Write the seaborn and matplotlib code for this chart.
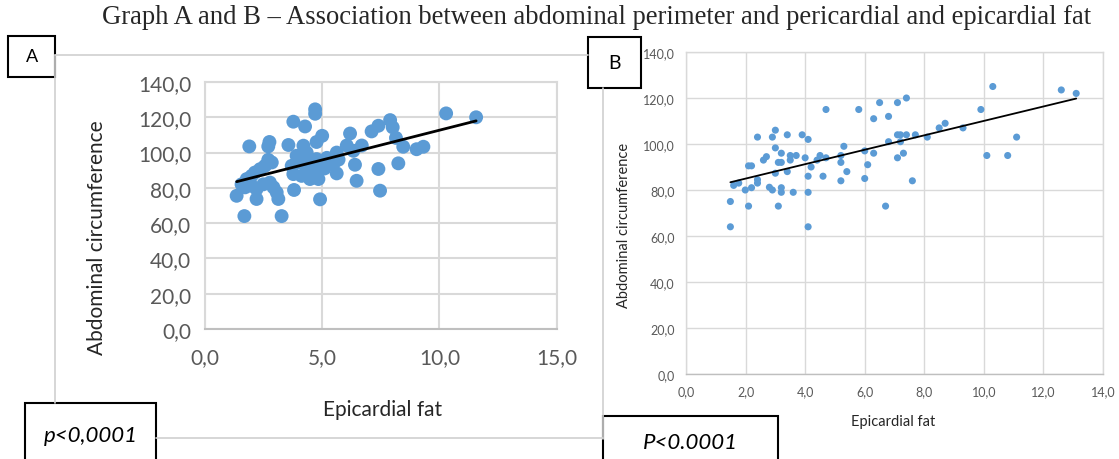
import matplotlib
matplotlib.use("Agg")
import matplotlib.pyplot as plt
from matplotlib.lines import Line2D
from matplotlib.patches import Rectangle
import seaborn as sns
import pandas as pd

# Graph A - epicardial fat vs abdominal circumference
fat_a = [1.35, 1.56, 1.71, 1.68, 1.78, 1.89, 1.99, 1.99, 2.13, 2.2, 2.2, 2.35, 2.49, 2.56,
         2.7, 2.75, 2.7, 2.77, 2.85, 2.92, 3.06, 3.13, 3.27, 3.56, 3.7, 3.77, 3.77, 3.8,
         3.91, 4.05, 4.12, 4.2, 4.27, 4.34, 4.34, 4.48, 4.48, 4.62, 4.7, 4.7, 4.76, 4.76,
         4.84, 4.91, 5.0, 5.1, 5.3, 5.48, 5.62, 5.62, 6.05, 6.19, 6.33, 6.4, 6.47, 6.69,
         7.11, 7.4, 7.4, 7.47, 7.9, 8.01, 8.15, 8.25, 8.46, 9.03, 9.32, 10.29, 11.57,
         5.2, 5.7, 5.0]
circ_a = [75.5, 82, 80.3, 64, 85, 103.5, 86.8, 81.2, 88.7, 79.3, 73.7, 90.6, 82, 92.5,
          95.9, 106, 103.5, 83, 94.4, 80.3, 77.4, 73.7, 64, 104.3, 92.5, 117.5, 87.8, 78.8,
          98.2, 94.4, 86.8, 103.9, 114.8, 100, 92.5, 85, 95.3, 89.7, 124.5, 122, 106, 96.3,
          85, 73.5, 109.5, 91, 95, 93.5, 88.2, 100, 104, 110.8, 101, 93.1, 84, 104,
          112, 115.2, 90.7, 78.4, 118.4, 114.3, 108.3, 93.9, 103.3, 101.9, 103.3, 122.2, 120,
          97, 96, 92]

# Graph B
fat_b = [1.49, 1.49, 1.6, 1.77, 1.99, 2.1, 2.2, 2.1, 2.2, 2.4, 2.4, 2.4, 2.6, 2.7, 2.8,
         2.9, 2.9, 3.0, 3.0, 3.0, 3.1, 3.1, 3.2, 3.2, 3.2, 3.2, 3.4, 3.4, 3.5, 3.5, 3.6,
         3.7, 3.9, 4.0, 4.1, 4.1, 4.1, 4.1, 4.2, 4.5, 4.4, 4.6, 4.7, 4.7, 5.2, 5.2, 5.2,
         5.3, 5.4, 5.8, 6.0, 6.0, 6.1, 6.3, 6.3, 6.5, 6.7, 6.8, 6.8, 7.1, 7.1, 7.1, 7.2,
         7.2, 7.3, 7.4, 7.4, 7.6, 7.7, 8.1, 8.5, 8.7, 9.3, 9.9, 10.1, 10.3, 10.8, 11.1,
         12.6, 13.1]
circ_b = [75, 64, 82, 83, 80, 90.5, 90.5, 73, 81, 103, 83, 84.5, 93, 94.5, 81.2,
          80, 103, 106, 98.3, 87.3, 92, 73, 96, 92, 81, 79, 104, 88, 95, 93, 79,
          95, 104, 94, 102, 86, 79, 64, 90, 95, 93, 86, 115, 94, 95, 92, 84,
          99, 88, 115, 97, 85, 91, 111, 96, 118, 73, 112, 101, 118, 104, 94, 104,
          101, 96, 120, 104, 84, 104, 103, 107, 109, 107, 115, 95, 125, 95, 103,
          123.5, 122]

xticks_a = [0, 5, 10, 15]
xticks_b = [0, 2, 4, 6, 8, 10, 12, 14]
yticks = [0, 20, 40, 60, 80, 100, 120, 140]

title = "Graph A and B \u2013 Association between abdominal perimeter and pericardial and epicardial fat"

df_a = pd.DataFrame({"fat": fat_a, "circ": circ_a})
df_b = pd.DataFrame({"fat": fat_b, "circ": circ_b})

sns.set_theme(style="white")
plt.rcParams["font.family"] = ["Lato", "DejaVu Sans"]

W, H = 1119, 460
fig = plt.figure(figsize=(W / 100, H / 100), dpi=100)

def box(px, py, pw, ph):
    # pixel box (top-left origin) -> figure fraction
    return [px / W, 1 - (py + ph) / H, pw / W, ph / H]

def comma(v):
    return f"{v:.1f}".replace(".", ",")

blue = "#5B9BD5"
grid_c = "#D9D9D9"
tick_c = "#595959"

# chart area borders
for xs, ys in [([55, 588], [56, 56]), ([55, 55], [56, 404]), ([156, 603], [439, 439]),
               ([603, 603], [89, 440])]:
    fig.add_artist(Line2D([x / W for x in xs], [1 - y / H for y in ys],
                          color="#D0D0D0", lw=1.2))


def style_axes(ax, xticks, xlim, fs, xpad, ypad, lw):
    ax.set_xlim(*xlim)
    ax.set_ylim(0, 140)
    ax.set_xticks(xticks)
    ax.set_xticklabels([comma(v) for v in xticks])
    ax.set_yticks(yticks)
    ax.set_yticklabels([comma(v) for v in yticks])
    ax.grid(True, color=grid_c, lw=lw)
    ax.set_axisbelow(True)
    for s in ax.spines.values():
        s.set_color(grid_c)
        s.set_linewidth(lw)
    ax.spines["bottom"].set_color("#BFBFBF")
    ax.tick_params(length=0, labelsize=fs, colors=tick_c)
    ax.tick_params(axis="x", pad=xpad)
    ax.tick_params(axis="y", pad=ypad)


# panel A
ax_a = fig.add_axes(box(205, 83, 351.5, 247))
sns.regplot(data=df_a, x="fat", y="circ", ax=ax_a, ci=None,
            scatter_kws=dict(s=100, color=blue, edgecolor="none", alpha=1),
            line_kws=dict(color="black", lw=2.0))
style_axes(ax_a, xticks_a, (0, 15), 15, 13, 10, 1.5)
ax_a.set_xlabel("Epicardial fat", fontsize=15, color="#262626")
ax_a.set_ylabel("Abdominal circumference", fontsize=15, color="#262626")
ax_a.xaxis.set_label_coords(0.506, -0.285)
ax_a.yaxis.set_label_coords(-0.28, 0.374)

# panel B
ax_b = fig.add_axes(box(686, 53, 417, 322))
sns.regplot(data=df_b, x="fat", y="circ", ax=ax_b, ci=None,
            scatter_kws=dict(s=26, color=blue, edgecolor="none", alpha=1),
            line_kws=dict(color="black", lw=1.3))
style_axes(ax_b, xticks_b, (0, 14), 9, 8, 8, 1.0)
ax_b.set_xlabel("Epicardial fat", fontsize=10.5, color="#262626")
ax_b.set_ylabel("Abdominal circumference", fontsize=10.5, color="#262626")
ax_b.xaxis.set_label_coords(0.496, -0.125)
ax_b.yaxis.set_label_coords(-0.132, 0.466)

# title
fig.text(597 / W, 1 - 18 / H, title, ha="center", va="center",
         fontsize=19.2, family="Liberation Serif")

# label boxes
for (px, py, pw, ph), txt, fs, style in [((8, 37, 47, 41), "A", 13, "normal"),
                                         ((588, 38, 53, 51), "B", 14, "normal"),
                                         ((25, 404, 131, 70), "p<0,0001", 16, "italic"),
                                         ((603, 417, 175, 60), "P<0.0001", 16, "italic")]:
    fig.add_artist(Rectangle((px / W, 1 - (py + ph) / H), pw / W, ph / H,
                             transform=fig.transFigure, facecolor="white",
                             edgecolor="black", lw=1.5))
    cy = py + ph / 2 if ph < 60 else py + 32
    if txt.startswith("P<"):
        cy = py + 26
    fig.text((px + pw / 2) / W, 1 - cy / H, txt, ha="center", va="center",
             fontsize=fs, style=style, color="black")

fig.savefig("out.png", dpi=100)
